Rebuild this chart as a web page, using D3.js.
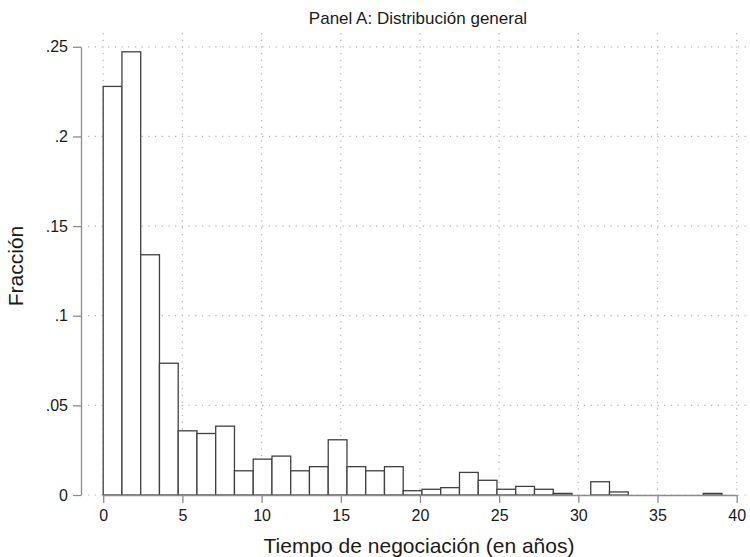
<!DOCTYPE html>
<html>
<head>
<meta charset="utf-8">
<script src="https://cdn.jsdelivr.net/npm/d3@7"></script>
<style>
  body { margin: 0; background: #fff; }
  svg { display: block; font-family: "Liberation Sans", Arial, Helvetica, sans-serif; }
</style>
</head>
<body>
<script>
// histogram bins: start, width, fraction per bin
var binStart = 0;
var binWidth = 1.184;
var fracciones = [
  0.2279, 0.2472, 0.1340, 0.0735, 0.0358, 0.0343, 0.0384, 0.0135, 0.0200, 0.0217,
  0.0135, 0.0158, 0.0308, 0.0158, 0.0135, 0.0158, 0.0024, 0.0032, 0.0041, 0.0126,
  0.0082, 0.0032, 0.0048, 0.0032, 0.0009, 0.0000, 0.0074, 0.0017, 0.0000, 0.0000,
  0.0000, 0.0000, 0.0009
];

var xTicks = [0, 5, 10, 15, 20, 25, 30, 35, 40];
var yTicks = [0, 0.05, 0.1, 0.15, 0.2, 0.25];
var yTickLabels = ["0", ".05", ".1", ".15", ".2", ".25"];

var titulo = "Panel A: Distribución general";
var tituloX = "Tiempo de negociación (en años)";
var tituloY = "Fracción";

var svgW = 750;
var svgH = 557;

var svg = d3.select("body")
            .append("svg")
            .attr("width", svgW)
            .attr("height", svgH);

var xScale = d3.scaleLinear()
               .domain([0, 40])
               .range([103.2, 736.7]);

var yScale = d3.scaleLinear()
               .domain([0, 0.25])
               .range([495, 46.8]);

var bins = fracciones.map(function (f, i) {
  return { x0: binStart + i * binWidth, x1: binStart + (i + 1) * binWidth, f: f };
});

/* ---------- grid ---------- */
svg.append("g")
   .selectAll("line")
   .data(yTicks)
   .enter()
   .append("line")
   .attr("x1", 88)
   .attr("x2", svgW)
   .attr("y1", function (d) { return yScale(d); })
   .attr("y2", function (d) { return yScale(d); })
   .attr("stroke", "#b0b0b0")
   .attr("stroke-width", 1.2)
   .attr("stroke-dasharray", "1.2,5.5");

svg.append("g")
   .selectAll("line")
   .data(xTicks)
   .enter()
   .append("line")
   .attr("x1", function (d) { return xScale(d); })
   .attr("x2", function (d) { return xScale(d); })
   .attr("y1", 33)
   .attr("y2", yScale(0))
   .attr("stroke", "#b0b0b0")
   .attr("stroke-width", 1.2)
   .attr("stroke-dasharray", "1.2,5.5");

/* ---------- bars ---------- */
svg.append("g")
   .selectAll("rect")
   .data(bins.filter(function (d) { return d.f > 0; }))
   .enter()
   .append("rect")
   .attr("x", function (d) { return xScale(d.x0); })
   .attr("y", function (d) { return yScale(d.f); })
   .attr("width", function (d) { return xScale(d.x1) - xScale(d.x0); })
   .attr("height", function (d) { return yScale(0) - yScale(d.f); })
   .attr("fill", "#fff")
   .attr("stroke", "#404040")
   .attr("stroke-width", 1.3);

/* ---------- axes ---------- */
var xAxis = d3.axisBottom(xScale)
              .tickValues(xTicks)
              .tickSizeInner(8)
              .tickSizeOuter(0)
              .tickPadding(7)
              .tickFormat(d3.format("d"));

var yAxis = d3.axisLeft(yScale)
              .tickValues(yTicks)
              .tickSizeInner(8)
              .tickSizeOuter(0)
              .tickPadding(5)
              .tickFormat(function (d, i) { return yTickLabels[i]; });

var gx = svg.append("g")
            .attr("transform", "translate(0," + yScale(0) + ")")
            .call(xAxis);

var gy = svg.append("g")
            .attr("transform", "translate(81,0)")
            .call(yAxis);

[gx, gy].forEach(function (g) {
  g.select(".domain").attr("stroke", "#8c8c8c").attr("stroke-width", 1.3);
  g.selectAll(".tick line").attr("stroke", "#8c8c8c").attr("stroke-width", 1.3);
  g.selectAll(".tick text")
   .attr("fill", "#1a1a1a")
   .style("font-size", "16px")
   .style("font-family", "'Liberation Sans', Arial, sans-serif");
});

/* ---------- titles ---------- */
svg.append("text")
   .attr("x", 418)
   .attr("y", 24)
   .attr("text-anchor", "middle")
   .attr("font-size", "17px")
   .attr("fill", "#1a1a1a")
   .text(titulo);

svg.append("text")
   .attr("x", 419)
   .attr("y", 553)
   .attr("text-anchor", "middle")
   .attr("font-size", "21px")
   .attr("fill", "#1a1a1a")
   .text(tituloX);

svg.append("text")
   .attr("transform", "translate(23,266) rotate(-90)")
   .attr("text-anchor", "middle")
   .attr("font-size", "21px")
   .attr("fill", "#1a1a1a")
   .text(tituloY);
</script>
</body>
</html>
